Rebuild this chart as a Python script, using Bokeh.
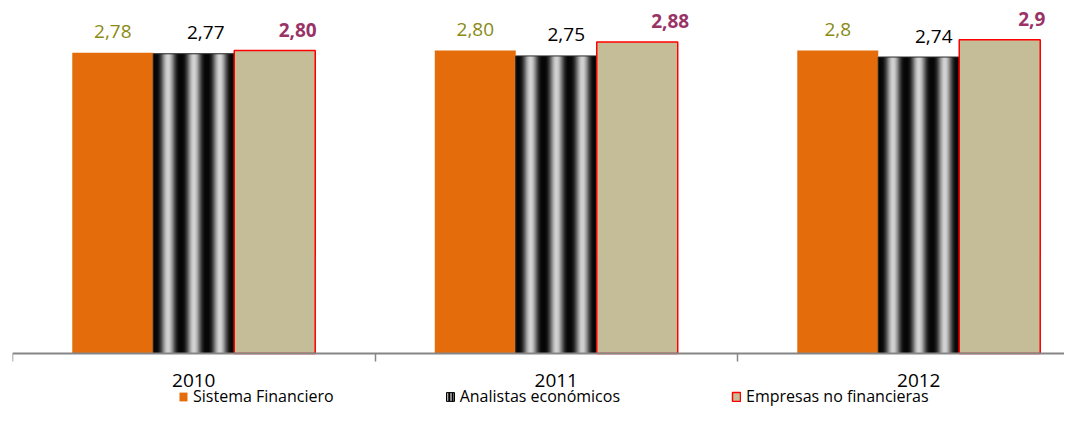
import numpy as np
from bokeh.plotting import figure
from bokeh.models import ColumnDataSource, Range1d, FixedTicker, Legend, LegendItem
from bokeh.core.properties import value
from bokeh.embed import file_html
from bokeh.resources import INLINE

# ---------------- data ----------------
years = ["2010", "2011", "2012"]
series_names = ["Sistema Financiero", "Analistas económicos", "Empresas no financieras"]
sistema = [2.78, 2.80, 2.80]
analistas = [2.77, 2.75, 2.74]
empresas = [2.80, 2.88, 2.90]
sistema_labels = ["2,78", "2,80", "2,8"]
analistas_labels = ["2,77", "2,75", "2,74"]
empresas_labels = ["2,80", "2,88", "2,9"]

# ---------------- style ----------------
ORANGE = "#E46C0A"
TAN = "#C4BD97"
RED = "#FF0000"
OLIVE = "#8A8A14"
PLUM = "#993366"
AXIS_GRAY = "#868686"
FONT = "Open Sans"

W, H = 1064, 408
LEFT = 12            # frame left edge (px)
BASE = 353           # pixel row of the zero line
PX_CAT = 362.5       # px per category
PX_UNIT = 108.2      # px per value unit

BAR_W = 0.2234                       # width of one bar in category units
offsets = [-BAR_W, 0.0, BAR_W]       # group offsets
lab_dx_sistema = [0, 0, 0]           # label x offsets (px)
lab_dx_analistas = [12, 10, 15]
lab_dx_empresas = [23, 33, 32]
LAB_DY = -21

centers = [i + 0.5 for i in range(len(years))]

p = figure(width=W, height=H,
           x_range=Range1d(0, (W - LEFT) / PX_CAT),
           y_range=Range1d(-(H - BASE) / PX_UNIT, BASE / PX_UNIT),
           output_backend="svg", toolbar_location=None, y_axis_location=None,
           min_border_left=LEFT, min_border_right=0, min_border_top=0, min_border_bottom=0)
p.outline_line_color = None
p.xgrid.visible = False
p.ygrid.visible = False
p.background_fill_color = "white"
p.border_fill_color = "white"
# a range far above the data: renderers mapped to it stay out of sight (legend swatch only)
p.extra_y_ranges = {"swatch": Range1d(100, 101)}

# orange bars
src_s = ColumnDataSource(dict(x=[c + offsets[0] for c in centers], top=sistema,
                              lab=sistema_labels, dx=lab_dx_sistema))
r_orange = p.vbar(x="x", top="top", width=BAR_W, source=src_s,
                  fill_color=ORANGE, line_color=None)

# striped (black/white gradient) bars
src_a = ColumnDataSource(dict(x=[c + offsets[1] for c in centers], top=analistas,
                              lab=analistas_labels, dx=lab_dx_analistas))
p.vbar(x="x", top="top", width=BAR_W, source=src_a, fill_color="black", line_color=None)
N = 81
sx, stop, scol = [], [], []
for c, v in zip(src_a.data["x"], analistas):
    for k in range(N):
        tpx = (k + 0.5) * 81.0 / N
        ph = 2 * np.pi * (tpx - 2.0) / 25.9
        inten = ((1 - np.cos(ph)) / 2) ** 1.4
        g = int(8 + 240 * inten)
        sx.append(c - BAR_W / 2 + (k + 0.5) * BAR_W / N)
        stop.append(v)
        scol.append("#%02x%02x%02x" % (g, g, g))
p.vbar(x=sx, top=stop, width=BAR_W / N * 1.08, fill_color=scol, line_color=None)
p.vbar(x="x", top="top", width=BAR_W, source=src_a, fill_color=None,
       line_color="#2a2a2a", line_width=1)
# legend swatch for the striped series (mapped to the out-of-sight range)
r_black = p.vbar(x="x", top="top", width=BAR_W, source=src_a, y_range_name="swatch",
                 fill_color="black", line_color="black", hatch_pattern="|",
                 hatch_color="white", hatch_scale=3.3, hatch_weight=1.1)

# tan bars
src_e = ColumnDataSource(dict(x=[c + offsets[2] for c in centers], top=empresas,
                              lab=empresas_labels, dx=lab_dx_empresas))
r_tan = p.vbar(x="x", top="top", width=BAR_W, source=src_e,
               fill_color=TAN, line_color=RED, line_width=1.5)

# data labels
p.text(x="x", y="top", text="lab", source=src_s, x_offset="dx", y_offset=LAB_DY,
       text_align="center", text_baseline="alphabetic", text_color=OLIVE,
       text_font=value(FONT), text_font_size="19px")
p.text(x="x", y="top", text="lab", source=src_a, x_offset="dx", y_offset=LAB_DY,
       text_align="center", text_baseline="alphabetic", text_color="black",
       text_font=value(FONT), text_font_size="19px")
p.text(x="x", y="top", text="lab", source=src_e, x_offset="dx", y_offset=LAB_DY,
       text_align="center", text_baseline="alphabetic", text_color=PLUM,
       text_font=value(FONT), text_font_size="19px", text_font_style="bold")

# x axis, pinned to the zero line
ax = p.xaxis[0]
ax.fixed_location = 0
ax.ticker = FixedTicker(ticks=centers, minor_ticks=[0, 1, 2, 3])
ax.major_label_overrides = {c: y for c, y in zip(centers, years)}
ax.axis_line_color = AXIS_GRAY
ax.axis_line_width = 2
ax.major_tick_line_color = None
ax.major_tick_in = 0
ax.major_tick_out = 0
ax.minor_tick_line_color = AXIS_GRAY
ax.minor_tick_line_width = 1.5
ax.minor_tick_in = 0
ax.minor_tick_out = 8
ax.major_label_standoff = 12
ax.major_label_text_font = FONT
ax.major_label_text_font_size = "19px"
ax.major_label_text_color = "black"

legend = Legend(items=[LegendItem(label=series_names[0], renderers=[r_orange]),
                       LegendItem(label=series_names[1], renderers=[r_black]),
                       LegendItem(label=series_names[2], renderers=[r_tan])],
                orientation="horizontal", location=(166, 1), padding=0, margin=0,
                spacing=111, glyph_width=10, glyph_height=11, label_standoff=5,
                border_line_color=None, background_fill_alpha=0,
                label_text_font=FONT, label_text_font_size="16px",
                label_text_color="black")
p.add_layout(legend)

open("out.html", "w").write(file_html(p, INLINE))
